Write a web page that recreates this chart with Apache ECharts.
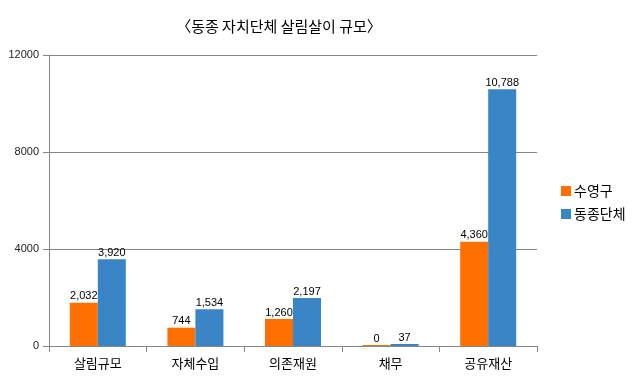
<!DOCTYPE html>
<html><head><meta charset="utf-8">
<script src="https://cdn.jsdelivr.net/npm/echarts@6/dist/echarts.min.js"></script>
<style>html,body{margin:0;padding:0;background:#fff}#c{width:638px;height:389px}</style>
</head><body><div id="c"></div>
<script>
const titleText = '〈동종 자치단체 살림살이 규모〉';
const categories = ['살림규모', '자체수입', '의존재원', '채무', '공유재산'];
const seriesNames = ['수영구', '동종단체'];
// bar heights as drawn in the picture
const suyeongValues = [1785, 755, 1113, 0, 4300];
const peerValues = [3575, 1513, 1979, 82, 10586];
// data labels as printed
const suyeongLabels = ['2,032', '744', '1,260', '0', '4,360'];
const peerLabels = ['3,920', '1,534', '2,197', '37', '10,788'];
const yTicks = [0, 4000, 8000, 12000];

const FONT = '"Noto Sans CJK KR", "Noto Sans", sans-serif';
const gridColor = '#868686';
const chart = echarts.init(document.getElementById('c'), null, {renderer: 'canvas'});
function mk(name, vals, labels, color) {
  return {
    name: name, type: 'bar', barWidth: 28, barGap: '0%', barMinHeight: 1,
    itemStyle: {color: color},
    data: vals,
    label: {show: true, position: 'top', distance: 1, color: '#000',
      fontFamily: '"Liberation Sans", Arial, sans-serif', fontSize: 11,
      formatter: p => labels[p.dataIndex]}
  };
}
chart.setOption({
  animation: false,
  backgroundColor: '#fff',
  textStyle: {fontFamily: FONT},
  title: {text: titleText, left: 274, top: 14, textAlign: 'center',
    textStyle: {fontFamily: FONT, fontSize: 15, fontWeight: 'normal', color: '#000'}},
  legend: {orient: 'vertical', left: 556, top: 179, icon: 'rect', itemWidth: 10, itemHeight: 10,
    itemGap: 9, data: seriesNames,
    textStyle: {fontFamily: FONT, fontSize: 14, color: '#000', lineHeight: 14, padding: [0,0,0,-2]}},
  grid: {left: 49, right: 101, top: 55, bottom: 43, containLabel: false},
  xAxis: {type: 'category', data: categories, boundaryGap: true,
    axisLine: {lineStyle: {color: gridColor, width: 1}},
    axisTick: {show: true, length: 6, alignWithLabel: false, lineStyle: {color: gridColor}},
    axisLabel: {fontFamily: FONT, fontSize: 13, color: '#000', margin: 11}},
  yAxis: {type: 'value', min: yTicks[0], max: yTicks[yTicks.length-1], interval: yTicks[1]-yTicks[0],
    axisLine: {show: true, lineStyle: {color: gridColor, width: 1}},
    axisTick: {show: true, length: 6, lineStyle: {color: gridColor}},
    axisLabel: {fontFamily: '"Liberation Sans", Arial, sans-serif', fontSize: 11, color: '#222', margin: 10,
      formatter: v => String(v)},
    splitLine: {show: true, lineStyle: {color: gridColor, width: 1}}},
  series: [
    mk(seriesNames[0], suyeongValues, suyeongLabels, '#FF7000'),
    mk(seriesNames[1], peerValues, peerLabels, '#3A85C5')
  ]
});
</script></body></html>
